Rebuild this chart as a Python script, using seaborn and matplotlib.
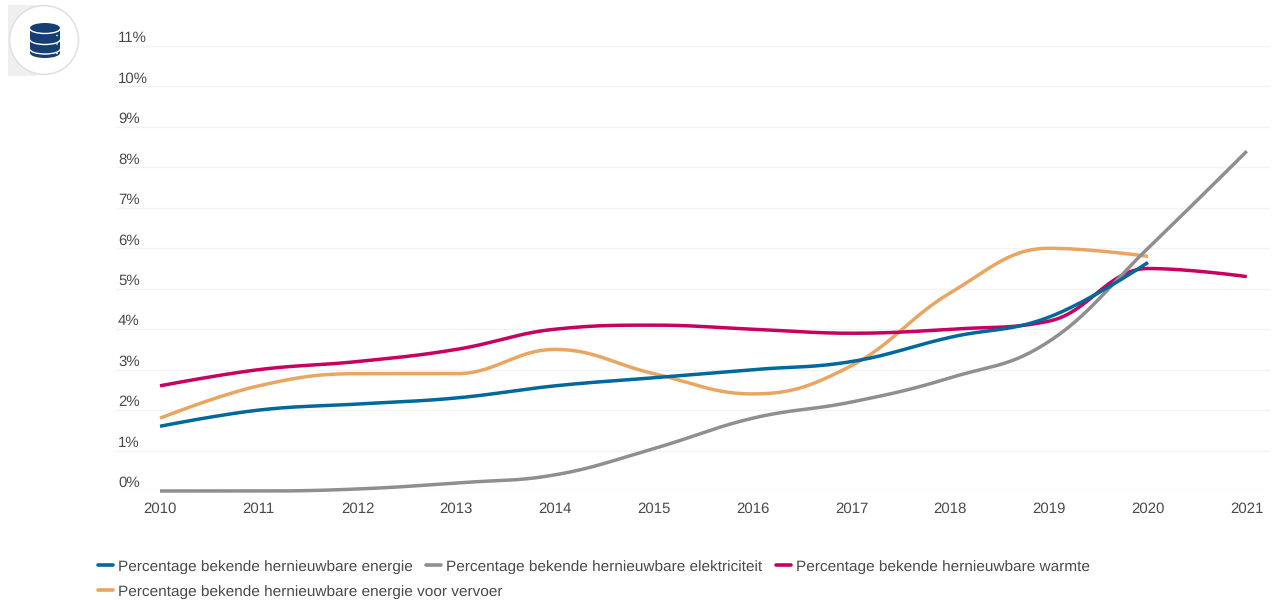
import numpy as np
import pandas as pd
import matplotlib.pyplot as plt
import seaborn as sns
from matplotlib.lines import Line2D
from matplotlib.patches import Arc, Circle, Ellipse, Rectangle

years = [2010, 2011, 2012, 2013, 2014, 2015, 2016, 2017, 2018, 2019, 2020, 2021]
energie = [1.6, 2.0, 2.15, 2.3, 2.6, 2.8, 3.0, 3.2, 3.8, 4.3, 5.65]
elektriciteit = [0, 0, 0.05, 0.2, 0.4, 1.05, 1.8, 2.2, 2.8, 3.7, 6.0, 8.4]
warmte = [2.6, 3.0, 3.2, 3.5, 4.0, 4.1, 4.0, 3.9, 4.0, 4.2, 5.5, 5.3]
vervoer = [1.8, 2.6, 2.9, 2.9, 3.5, 2.9, 2.4, 3.1, 4.9, 6.0, 5.8]

names = ['Percentage bekende hernieuwbare energie',
         'Percentage bekende hernieuwbare elektriciteit',
         'Percentage bekende hernieuwbare warmte',
         'Percentage bekende hernieuwbare energie voor vervoer']
colors = ['#00699b', '#8f8f8f', '#c8005f', '#e9a662']
y_ticks = list(range(0, 12))

W, H = 1274, 601
text_color = '#4a4a4a'
font_size = 10.8
legend_size = 11.1


def smooth(xs, ys, steps=30):
    # spline through the yearly values, same bezier handles as the web chart
    xs = np.array(xs, dtype=float)
    ys = np.array(ys, dtype=float)
    k = 1.5
    n = len(xs)
    left = [(xs[i], ys[i]) for i in range(n)]
    right = [(xs[i], ys[i]) for i in range(n)]
    for i in range(1, n - 1):
        lx = (k * xs[i] + xs[i - 1]) / (k + 1)
        ly = (k * ys[i] + ys[i - 1]) / (k + 1)
        rx = (k * xs[i] + xs[i + 1]) / (k + 1)
        ry = (k * ys[i] + ys[i + 1]) / (k + 1)
        c = (ry - ly) * (rx - xs[i]) / (rx - lx) + ys[i] - ry
        ly += c
        ry += c
        if ly > ys[i - 1] and ly > ys[i]:
            ly = max(ys[i - 1], ys[i])
            ry = 2 * ys[i] - ly
        elif ly < ys[i - 1] and ly < ys[i]:
            ly = min(ys[i - 1], ys[i])
            ry = 2 * ys[i] - ly
        if ry > ys[i + 1] and ry > ys[i]:
            ry = max(ys[i + 1], ys[i])
            ly = 2 * ys[i] - ry
        elif ry < ys[i + 1] and ry < ys[i]:
            ry = min(ys[i + 1], ys[i])
            ly = 2 * ys[i] - ry
        left[i] = (lx, ly)
        right[i] = (rx, ry)
    out_x, out_y = [], []
    t = np.linspace(0, 1, steps)
    for i in range(n - 1):
        p0, p1, p2, p3 = (xs[i], ys[i]), right[i], left[i + 1], (xs[i + 1], ys[i + 1])
        out_x.extend((1-t)**3*p0[0] + 3*(1-t)**2*t*p1[0] + 3*(1-t)*t**2*p2[0] + t**3*p3[0])
        out_y.extend((1-t)**3*p0[1] + 3*(1-t)**2*t*p1[1] + 3*(1-t)*t**2*p2[1] + t**3*p3[1])
    return out_x, out_y


sns.set_theme(style='white')
plt.rcParams['font.family'] = ['Liberation Sans', 'DejaVu Sans']
plt.rcParams['text.hinting'] = 'no_hinting'

fig = plt.figure(figsize=(W / 100, H / 100), dpi=100)
ax = fig.add_axes([116 / W, 1 - 491 / H, (1270 - 116) / W, (491 - 46) / H])

# drawing order: orange at the back, blue on top
series = [(vervoer, 3), (warmte, 2), (elektriciteit, 1), (energie, 0)]
for values, idx in series:
    sx, sy = smooth(years[:len(values)], values)
    df = pd.DataFrame({'jaar': sx, 'waarde': sy})
    sns.lineplot(data=df, x='jaar', y='waarde', color=colors[idx], linewidth=2.5,
                 ax=ax, legend=False, estimator=None, sort=False, solid_capstyle='butt',
                 clip_on=False)

ax.set_xlim(2010 - 44 / 98.8, 2010 + (1270 - 160) / 98.8)
ax.set_ylim(0, 11)
ax.set_xlabel('')
ax.set_ylabel('')
ax.set_xticks(years)
ax.set_yticks(y_ticks)
ax.set_yticklabels([])
ax.tick_params(axis='x', length=0, pad=8, labelsize=font_size, labelcolor=text_color)
ax.tick_params(axis='y', length=0)
ax.grid(axis='y', color='#f3f3f3', linewidth=1)
ax.set_axisbelow(True)
for s in ax.spines.values():
    s.set_visible(False)

# percent labels sit on top of the gridlines
for v in y_ticks:
    ax.annotate(f'{v}%', xy=(0, v), xycoords=('axes fraction', 'data'), xytext=(1.5, 0.5),
                textcoords='offset points', ha='left', va='bottom',
                fontsize=font_size, color=text_color)

# legend, two rows with different column widths
handles = [Line2D([], [], color=c, linewidth=2.6, solid_capstyle='round') for c in colors]
leg1 = fig.legend(handles[:3], names[:3], ncols=3, loc='center left',
                  bbox_to_anchor=(98 / W, 1 - 567 / H), bbox_transform=fig.transFigure,
                  frameon=False, fontsize=legend_size, labelcolor=text_color, borderpad=0,
                  borderaxespad=0, handlelength=0.98, handletextpad=0.33, columnspacing=0.86)
leg2 = fig.legend(handles[3:], names[3:], loc='center left',
                  bbox_to_anchor=(98 / W, 1 - 592 / H), bbox_transform=fig.transFigure,
                  frameon=False, fontsize=legend_size, labelcolor=text_color, borderpad=0,
                  borderaxespad=0, handlelength=0.98, handletextpad=0.33)

# database badge, top left, in pixel coordinates
badge = fig.add_axes([0, 0, 1, 1], zorder=5)
badge.set_xlim(0, W)
badge.set_ylim(H, 0)
badge.axis('off')
navy = '#153f73'
badge.add_patch(Rectangle((8, 5), 29, 71, color='#efefef', lw=0))
badge.add_patch(Circle((44, 40), 34.5, facecolor='white', edgecolor='#e2e2e2', linewidth=1.2))
badge.add_patch(Rectangle((30, 28), 30, 25, color=navy, lw=0))
badge.add_patch(Ellipse((45, 28), 30, 10, color=navy, lw=0))
badge.add_patch(Ellipse((45, 53), 30, 10, color=navy, lw=0))
for cy in [28.5, 39.5, 49]:
    badge.add_patch(Arc((45, cy), 30.5, 10, theta1=0, theta2=180, color='white', linewidth=1.0, zorder=4))
for cy in [35.5, 44, 53.5]:
    badge.add_patch(Circle((57, cy), 0.8, color='white', lw=0, zorder=4))

fig.savefig('out.png', dpi=100, facecolor='white')
